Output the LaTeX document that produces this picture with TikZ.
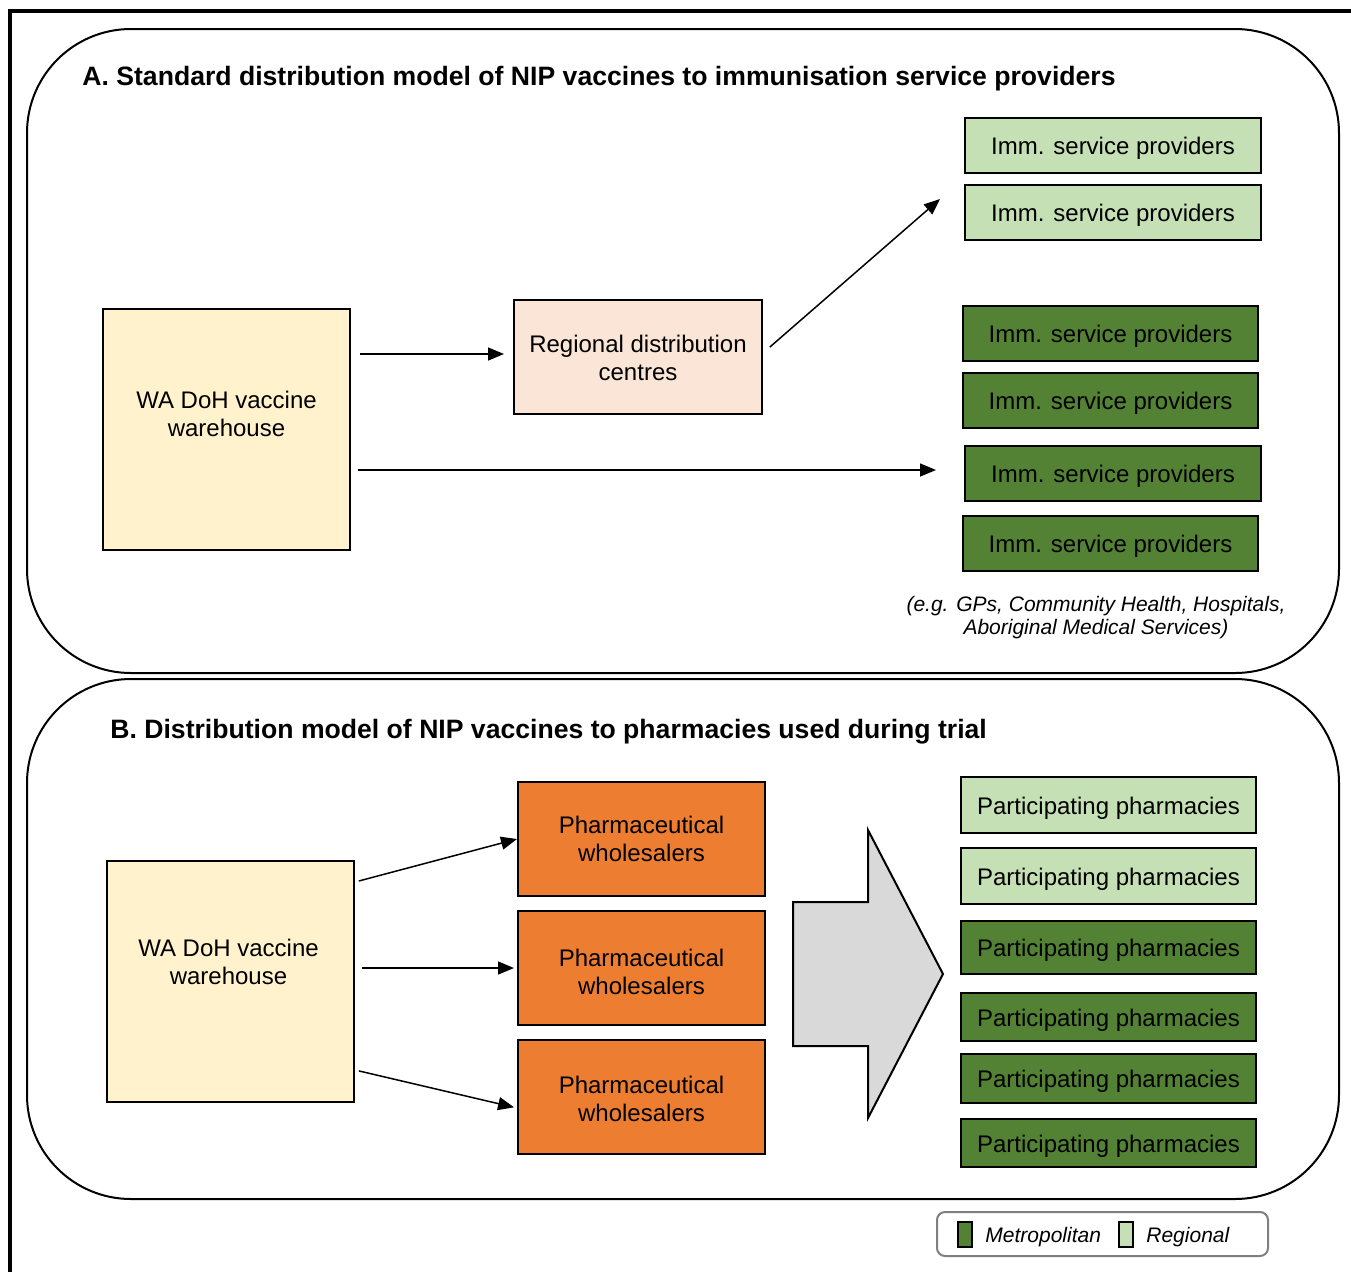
\documentclass[tikz,border=0pt]{standalone}
\usepackage{fontspec}
\setmainfont{Liberation Sans}
\usetikzlibrary{arrows.meta,calc}
\definecolor{cyellow}{HTML}{FFF2CC}
\definecolor{cpeach}{HTML}{FBE5D6}
\definecolor{clight}{HTML}{C5E0B4}
\definecolor{cdark}{HTML}{548235}
\definecolor{corange}{HTML}{ED7D31}
\definecolor{cgrey}{HTML}{D9D9D9}
\definecolor{clegend}{HTML}{7F7F7F}
\begin{document}
\begin{tikzpicture}[x=0.5pt,y=-0.5pt,
  basebox/.style={draw=black, line width=1pt, inner sep=0pt, align=center,
    font=\fontsize{12}{14}\selectfont},
  onel/.style={text height=11.5pt, text depth=2.5pt},
  boxtext/.style={inner sep=0pt, align=center, font=\fontsize{12}{14}\selectfont},
  whbox/.style={basebox, fill=cyellow, minimum width=123.5pt, minimum height=120.5pt},
  rdcbox/.style={basebox, fill=cpeach, minimum width=124pt, minimum height=57pt},
  pwbox/.style={basebox, fill=corange, minimum width=123.5pt, minimum height=57pt},
  ltbox/.style={basebox, onel, fill=clight, minimum width=148pt},
  dkbox/.style={basebox, onel, fill=cdark, minimum width=148pt},
  panel/.style={draw=black, line width=1pt, rounded corners=52pt},
  ptitle/.style={anchor=west, inner sep=0pt, font=\fontsize{13.3}{15}\selectfont\bfseries},
  arr/.style={draw=black, line width=0.75pt, -{Triangle[length=8pt,width=6.5pt]}},
  legtext/.style={anchor=west, inner sep=0pt, font=\fontsize{10.5}{12}\selectfont\itshape}
]
\useasboundingbox (0,0) rectangle (1351,1271);
% outer frame
\draw[line width=1.75pt] (10,1285) -- (10,11) -- (1365,11);
% panels
\draw[panel] (27,29) rectangle (1339,673);
\draw[panel] (27,679) rectangle (1339,1199);

% ---------- Panel A ----------
\node[ptitle] (titleA) at (82,79) {A. Standard distribution model of NIP vaccines to immunisation service providers};
\node[whbox] (whA) at (226.5,429.5) {};
\node[boxtext] (whAt) at (226.5,414) {WA DoH vaccine\\warehouse};
\node[rdcbox] (rdc) at (638,357) {\strut Regional distribution\\centres};
\node[ltbox, minimum height=27.5pt] (a1) at (1113,145.5) {Imm. service providers};
\node[ltbox, minimum height=27.5pt] (a2) at (1113,212.5) {Imm. service providers};
\node[dkbox, minimum height=27.5pt, minimum width=147.5pt] (a3) at (1110.5,333.5) {Imm. service providers};
\node[dkbox, minimum height=27.5pt, minimum width=147.5pt] (a4) at (1110.5,400.5) {Imm. service providers};
\node[dkbox, minimum height=27.5pt] (a5) at (1113,473.5) {Imm. service providers};
\node[dkbox, minimum height=27.5pt, minimum width=147.5pt] (a6) at (1110.5,543.5) {Imm. service providers};
\node[align=center, inner sep=0pt, font=\fontsize{10.5}{11.5}\selectfont\itshape] (noteA) at (1096,618)
  {(e.g. GPs, Community Health, Hospitals,\\Aboriginal Medical Services)};

\coordinate (tipA) at (940,199);
\draw[arr, shorten <=4.5pt, shorten >=4.5pt] (whA.east |- 0,354) -- (rdc.west |- 0,354);
\draw[arr, shorten <=3.5pt, shorten >=14pt] (whA.east |- 0,470) -- (a5.west |- 0,470);
\draw[arr, shorten <=4.5pt] (rdc.east |- 0,353) -- (tipA);

% ---------- Panel B ----------
\node[ptitle] (titleB) at (110,732) {B. Distribution model of NIP vaccines to pharmacies used during trial};
\node[whbox] (whB) at (230.5,981.5) {};
\node[boxtext] (whBt) at (228.5,962) {WA DoH vaccine\\warehouse};
\node[pwbox] (pw1) at (641.5,839) {Pharmaceutical\\wholesalers};
\node[pwbox] (pw2) at (641.5,968) {};
\node[boxtext] (pw2t) at (641.5,972) {Pharmaceutical\\wholesalers};
\node[pwbox] (pw3) at (641.5,1097) {};
\node[boxtext] (pw3t) at (641.5,1099) {Pharmaceutical\\wholesalers};

\draw[arr, shorten <=2pt] (whB.east |- 0,882) -- (pw1.west);
\draw[arr, shorten <=3.5pt, shorten >=1.5pt] (whB.east |- 0,968) -- (pw2.west);
\draw[arr, shorten <=2pt, shorten >=1.5pt] (whB.east |- 0,1070) -- (pw3.west |- 0,1108);

% block arrow
\draw[draw=black, line width=1pt, fill=cgrey, line join=miter]
  (793,902) -- (868,902) -- (868,830) -- (943,974) -- (868,1118) -- (868,1046) -- (793,1046) -- cycle;

\node[ltbox, minimum height=28pt, minimum width=147.5pt] (p1) at (1108.5,805) {Participating pharmacies};
\node[ltbox, minimum height=28pt, minimum width=147.5pt] (p2) at (1108.5,876) {Participating pharmacies};
\node[dkbox, minimum height=26.5pt, minimum width=147.5pt] (p3) at (1108.5,947.5) {Participating pharmacies};
\node[dkbox, minimum height=24pt, minimum width=147.5pt] (p4) at (1108.5,1017) {Participating pharmacies};
\node[dkbox, minimum height=24.5pt, minimum width=147.5pt] (p5) at (1108.5,1078.5) {Participating pharmacies};
\node[dkbox, minimum height=24pt, minimum width=147.5pt] (p6) at (1108.5,1143) {Participating pharmacies};

% ---------- Legend ----------
\draw[draw=clegend, line width=1pt, rounded corners=4pt] (937,1212) rectangle (1268,1256);
\draw[draw=black, line width=1pt, fill=cdark] (958,1222) rectangle (972,1247);
\node[legtext] (lm) at (985,1237) {Metropolitan};
\draw[draw=black, line width=1pt, fill=clight] (1119,1222) rectangle (1133,1247);
\node[legtext] (lr) at (1146,1237) {Regional};
\end{tikzpicture}
\end{document}
